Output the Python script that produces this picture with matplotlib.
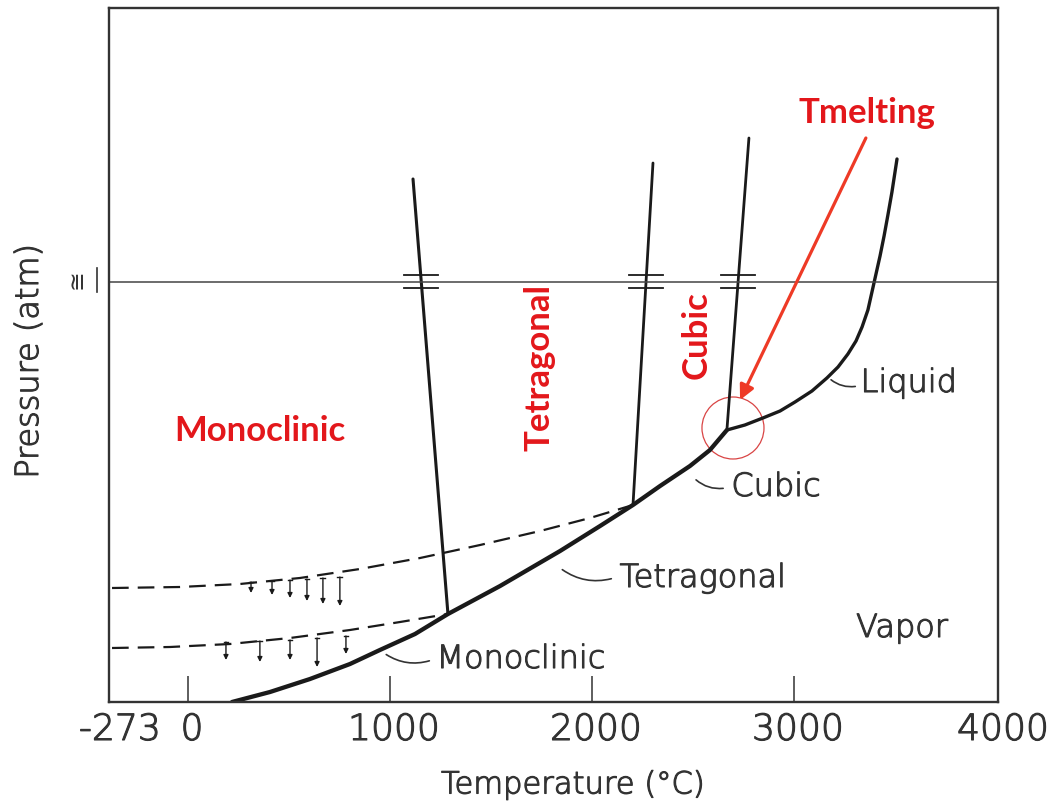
import matplotlib
matplotlib.use('Agg')
import matplotlib.pyplot as plt
from matplotlib.patches import Ellipse, FancyArrowPatch
import matplotlib.patheffects as pe

plt.rcParams['lines.scale_dashes'] = False
plt.rcParams['font.family'] = ['DejaVu Sans']

# ---------------- data (temperature in degC, pressure in display units) ----------------
solid_vapor_T = [218, 406, 604, 802, 950, 1124, 1287, 1545, 1842, 2040, 2203,
                 2337, 2485, 2584, 2668]
solid_vapor_P = [0, 10, 23, 38, 52, 68, 88, 116, 151, 176, 197,
                 216, 236, 252, 272]

liquid_vapor_T = [2668, 2757, 2846, 2931, 3005, 3089, 3163, 3218, 3267, 3307, 3337,
                  3366, 3386, 3406, 3426, 3446, 3465, 3485, 3510]
liquid_vapor_P = [272, 277, 284, 291, 300, 311, 324, 335, 348, 361, 375,
                  392, 410, 428, 446, 466, 487, 510, 543]

mono_tetra_T = [1287, 1114]
mono_tetra_P = [88, 523]
tetra_cubic_T = [2203, 2302]
tetra_cubic_P = [197, 539]
cubic_liquid_T = [2668, 2777]
cubic_liquid_P = [272, 564]

meta_tetra_T = [-376, -40, 257, 554, 851, 1149, 1446, 1743, 1990, 2203]
meta_tetra_P = [114, 115, 118, 124, 133, 144, 157, 171, 184, 197]
meta_mono_T = [-376, -89, 208, 505, 802, 1050, 1287]
meta_mono_P = [54, 55, 58, 64, 72, 80, 88]

one_atm_P = 420
break_T = [1153, 2267, 2723]

arrows_upper_T = [312, 416, 505, 589, 668, 752]
arrows_upper_top = [120, 121, 122, 123, 124, 125]
arrows_upper_bot = [109, 107, 104, 101, 98, 96]
arrows_lower_T = [188, 356, 505, 639, 782]
arrows_lower_top = [60, 61, 62, 64, 66]
arrows_lower_bot = [42, 40, 42, 35, 48]

xtick_values = [0, 1000, 2000, 3000]
xtick_labels = ['0', '1000', '2000', '3000']

# ---------------- figure ----------------
fig = plt.figure(figsize=(10.57, 8.07), dpi=100)
ax = fig.add_axes([109 / 1057, 1 - 702 / 807, (998 - 109) / 1057, (702 - 8) / 807])
ax.set_xlim(-391, 4010)
ax.set_ylim(0, 694)

ink = '#1a1a1a'
txt = '#333333'
thin = dict(fontweight='light',
            path_effects=[pe.withStroke(linewidth=0.8, foreground=txt)])
for s in ax.spines.values():
    s.set_linewidth(1.7)
    s.set_color('#333333')

ax.set_yticks([])
ax.set_xticks(xtick_values)
ax.set_xticklabels([])
ax.tick_params(axis='x', direction='in', length=19, width=1.1, color='#333333')

# phase lines
ax.plot(solid_vapor_T, solid_vapor_P, color=ink, lw=3.1, solid_capstyle='round',
        solid_joinstyle='round')
ax.plot(liquid_vapor_T, liquid_vapor_P, color=ink, lw=2.4, solid_capstyle='round',
        solid_joinstyle='round')
ax.plot(mono_tetra_T, mono_tetra_P, color=ink, lw=2.2, solid_capstyle='round')
ax.plot(tetra_cubic_T, tetra_cubic_P, color=ink, lw=2.0, solid_capstyle='round')
ax.plot(cubic_liquid_T, cubic_liquid_P, color=ink, lw=2.0, solid_capstyle='round')
ax.plot(meta_tetra_T, meta_tetra_P, color=ink, lw=1.6, dashes=(12, 6.5))
ax.plot(meta_mono_T, meta_mono_P, color=ink, lw=1.6, dashes=(12, 6.5))

ax.axhline(one_atm_P, color='#444444', lw=1.1)
for bt in break_T:
    ax.plot([bt - 84, bt + 84], [one_atm_P + 7, one_atm_P + 7], color=ink, lw=1.3)
    ax.plot([bt - 84, bt + 84], [one_atm_P - 6, one_atm_P - 6], color=ink, lw=1.3)

# small arrows
for xs, tops, bots in [(arrows_upper_T, arrows_upper_top, arrows_upper_bot),
                       (arrows_lower_T, arrows_lower_top, arrows_lower_bot)]:
    for t, p0, p1 in zip(xs, tops, bots):
        ax.annotate('', xy=(t, p1), xytext=(t, p0),
                    arrowprops=dict(arrowstyle='-|>', color=ink, lw=1.0,
                                    mutation_scale=7, shrinkA=0, shrinkB=0))
        ax.plot([t - 12, t + 12], [p0, p0], color=ink, lw=1.0)

# black labels with leaders
lab_kw = dict(fontsize=23, color=txt, va='center', ha='center', **thin)
ax.text(3569, 319, 'Liquid', **lab_kw)
ax.text(2911, 215, 'Cubic', **lab_kw)
ax.text(2550, 124, 'Tetragonal', **lab_kw)
ax.text(1649, 43, 'Monoclinic', **lab_kw)
ax.text(3535, 74, 'Vapor', **lab_kw)

leaders = [((3173, 324), (3317, 316)),
           ((2505, 224), (2663, 214)),
           ((1842, 134), (2109, 124)),
           ((970, 49), (1208, 42))]
for a, b in leaders:
    ax.add_patch(FancyArrowPatch(a, b, arrowstyle='-', connectionstyle='arc3,rad=0.25',
                                 color=txt, lw=1.2))

# x tick labels and axis labels
tk = dict(fontsize=26, color=txt, va='center', ha='center', clip_on=False, **thin)
for v, lab in zip(xtick_values, xtick_labels):
    ax.text(v + 20, -28, lab, **tk)
ax.text(-337, -28, '-273', **tk)
ax.text(4035, -28, '4000', **tk)
ax.text(1905, -83, 'Temperature (°C)', fontsize=22, color=txt, va='center',
        ha='center', clip_on=False, **thin)
ax.text(-787, 341, 'Pressure (atm)', rotation=90, fontsize=23, color=txt,
        va='center', ha='center', clip_on=False, **thin)
ax.text(-550, 423, '≅', rotation=90, fontsize=17, color=txt, ha='center',
        va='center', clip_on=False)
ax.plot([-450, -450], [410, 434], color=txt, lw=1.2, clip_on=False)

# red annotations
red = '#E3171B'
rk = dict(color=red, fontweight='bold', fontsize=25, ha='center', va='center',
          family=['Lato', 'DejaVu Sans'])
ax.text(356, 271, 'Monoclinic', **rk)
ax.text(1738, 335, 'Tetragonal', rotation=90, **rk)
ax.text(2520, 367, 'Cubic', rotation=90, **rk)
ax.text(3361, 589, 'Tmelting', **rk)
ax.annotate('', xy=(2733, 302), xytext=(3356, 564),
            arrowprops=dict(arrowstyle='-|>', color='#EE3A26', lw=2.3,
                            mutation_scale=22, shrinkA=0, shrinkB=0))
ax.add_patch(Ellipse((2698, 274), 307, 62, fill=False, edgecolor='#D94545', lw=0.9))

fig.savefig('out.png', dpi=100)
